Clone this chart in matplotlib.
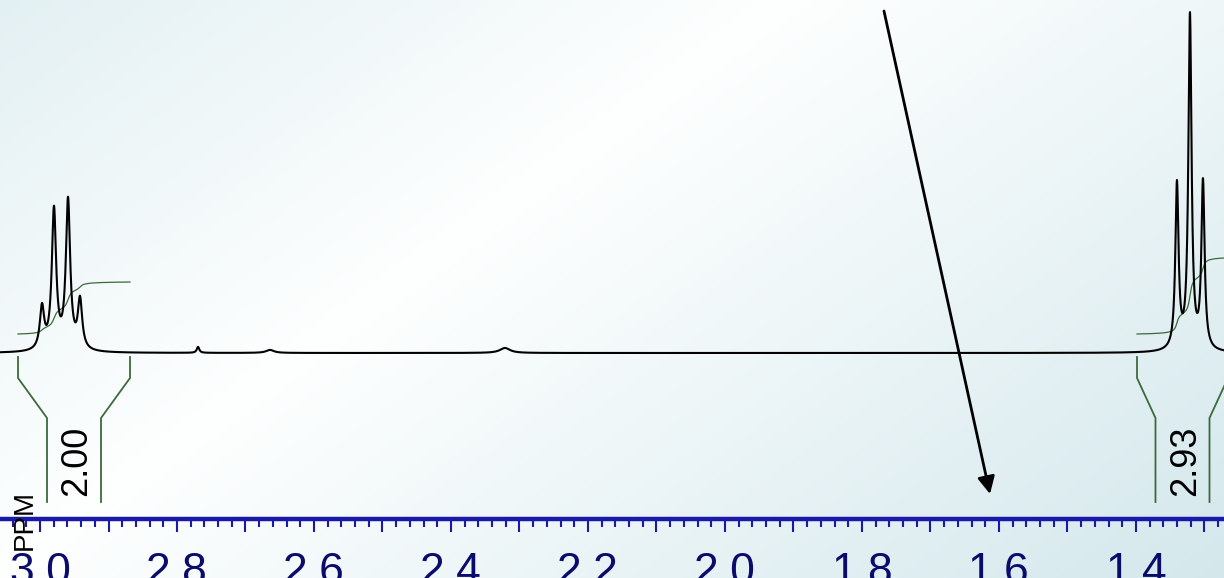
import numpy as np
import matplotlib
matplotlib.use("Agg")
import matplotlib.pyplot as plt
from matplotlib.ticker import MultipleLocator, FuncFormatter

# ---------------- data ----------------
peak_ppm = [2.9971, 2.9796, 2.9591, 2.9416,      # quartet
            1.3402, 1.3212, 1.3022,              # triplet
            2.7693, 2.6642, 2.3212]              # small impurities
peak_height = [42, 140, 149, 49,
               165, 334, 167,
               6, 3, 5]
peak_hwhm = [0.0038, 0.0038, 0.0038, 0.0038,
             0.0028, 0.0028, 0.0028,
             0.0022, 0.0070, 0.0090]

integral_regions = [(3.0321, 2.8686), (1.3985, 1.2657)]
integral_values = [2.00, 2.93]
integral_labels = ["2.00", "2.93"]

ppm_range = (3.0584, 1.2715)
intensity_range = (-225, 353)

# ---------------- figure ----------------
W, H, DPI = 1224, 578, 100
fig = plt.figure(figsize=(W / DPI, H / DPI), dpi=DPI)

# background gradient (reflected linear gradient)
bg_ax = fig.add_axes([0, 0, 1, 1], zorder=0)
yy, xx = np.mgrid[0:H, 0:W]
nx, ny = 0.589, 0.808
d = np.abs((xx - 580) * nx + (yy - 150) * ny)
r = np.clip(254 - d * 0.058, 0, 255)
g = np.clip(255 - d * 0.032, 0, 255)
b = np.clip(255 - d * 0.026, 0, 255)
bg = np.dstack([r, g, b]) / 255.0
bg_ax.imshow(bg, aspect="auto", extent=[0, 1, 0, 1], origin="upper")
bg_ax.axis("off")

ax = fig.add_axes([0, 0, 1, 1], zorder=1)
ax.patch.set_alpha(0)

# spectrum from peak list (Lorentzian lines)
x = np.linspace(ppm_range[0], ppm_range[1], 9000)
spec = np.zeros_like(x)
for c, h, w in zip(peak_ppm, peak_height, peak_hwhm):
    spec += h * w**2 / ((x - c) ** 2 + w**2)
ax.plot(x, spec, color="black", lw=1.5, zorder=5)

px_per_ppm = W / (ppm_range[0] - ppm_range[1])
px = 1.0 / px_per_ppm  # one pixel in ppm
green = "#3b6b3b"
rise_per_unit = 26
for (a, bnd), val, lab in zip(integral_regions, integral_values, integral_labels):
    xs = np.linspace(a, bnd, 2000)
    ys = np.zeros_like(xs)
    for c, h, w in zip(peak_ppm, peak_height, peak_hwhm):
        ys += h * w**2 / ((xs - c) ** 2 + w**2)
    cum = np.cumsum(ys)
    cum = cum / cum[-1]
    ax.plot(xs, 19 + cum * val * rise_per_unit, color=green, lw=0.9, zorder=4)
    mid = (a + bnd) / 2
    half = 27 * px
    ytop, yknee, yin, ybot = -4, -25, -65, -149
    ax.plot([a, a, mid + half, mid + half], [ytop, yknee, yin, ybot],
            color=green, lw=1.3, zorder=4)
    ax.plot([bnd, bnd, mid - half, mid - half], [ytop, yknee, yin, ybot],
            color=green, lw=1.3, zorder=4)
    ax.text(mid - 3 * px, -108, lab, rotation=90, ha="center", va="center",
            fontsize=26, family="Liberation Sans", color="black", zorder=6)

# arrow
ax.annotate("", xy=(1.6131, -141), xytext=(1.7679, 342),
            arrowprops=dict(arrowstyle="-|>", color="black", lw=2,
                            mutation_scale=26, shrinkA=0, shrinkB=0),
            zorder=6)

# ppm axis
ax.set_xlim(*ppm_range)
ax.set_ylim(*intensity_range)
for s in ["left", "right", "top"]:
    ax.spines[s].set_visible(False)
blue = "#1a1aaa"
ax.spines["bottom"].set_position(("data", -166))
ax.spines["bottom"].set_color(blue)
ax.spines["bottom"].set_linewidth(3.2)
ax.yaxis.set_visible(False)
ax.xaxis.set_major_locator(MultipleLocator(0.1))
ax.xaxis.set_minor_locator(MultipleLocator(0.02))
ax.xaxis.set_major_formatter(FuncFormatter(
    lambda v, p: f"{v:.1f}" if int(round(v * 10)) % 2 == 0 else ""))
ax.tick_params(axis="x", which="major", direction="out", length=9.4,
               width=1.5, color=blue, pad=14.5, labelsize=32,
               labelcolor="#0b0b6b")
ax.tick_params(axis="x", which="minor", direction="out", length=5.8,
               width=1.5, color=blue)
for t in ax.get_xticklabels():
    t.set_family("Liberation Sans")

ax.text(25 / W, 1 - 520 / H, "PPM", transform=ax.transAxes, rotation=90,
        ha="center", va="center", fontsize=20, family="Liberation Sans",
        color="black", zorder=6)

fig.savefig("out.png", dpi=DPI)
